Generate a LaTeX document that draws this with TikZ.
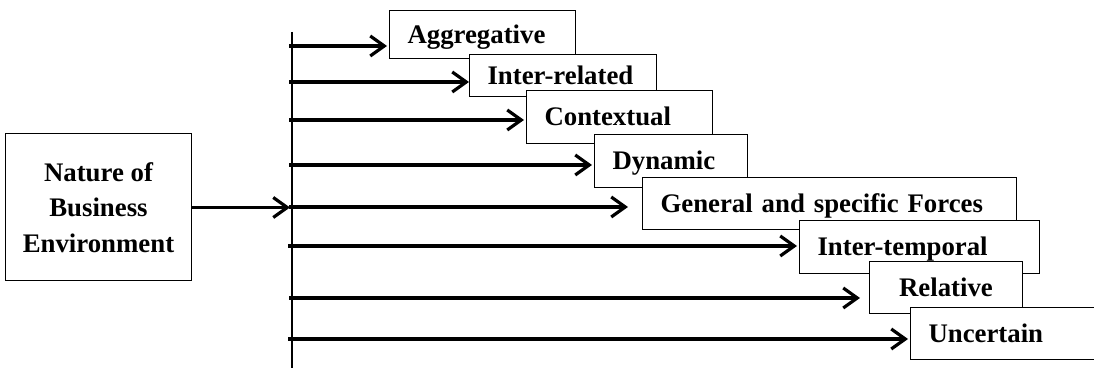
\documentclass[tikz,border=0pt]{standalone}
\usepackage{fontspec}
\setmainfont{Liberation Serif}
\usetikzlibrary{arrows.meta}

\begin{document}
\begin{tikzpicture}[x=0.5pt, y=-0.5pt,
	fbox/.style={draw, line width=0.5pt, fill=white, anchor=north west, inner ysep=0pt, inner xsep=9pt, align=left, font=\fontsize{13.4}{17.8}\selectfont\bfseries},
	feat/.style={fbox, text height=9pt, text depth=0pt},
	arr/.style={line width=1.7pt, -{Straight Barb[length=7pt, width=10pt, line width=1.6pt]}}]
	\useasboundingbox (0,0) rectangle (1094,368);
	\clip (0,0) rectangle (1094,368);
	% source box and the vertical bar
	\node[fbox, anchor=center, align=center, inner xsep=0pt, minimum width=93pt, minimum height=73.5pt] (nat) at (98.5,207.5) {Nature of\\Business\\Environment};
	\coordinate (vtop) at (292,32);
	\coordinate (vbot) at (292,370);
	\draw[line width=1pt] (vtop) -- (vbot);
	\draw[arr, shorten >=1pt] (nat) -- (nat -| vtop);
	% features, each one on top of the one before
	\node[feat, text width=75pt, minimum height=24pt] (agg) at (389,10) {Aggregative};
	\node[feat, text width=75.5pt, minimum height=21pt] (intrel) at (469,54) {Inter-related};
	\node[feat, text width=75pt, minimum height=26.5pt] (ctx) at (526,90) {Contextual};
	\node[feat, text width=58.5pt, minimum height=26.5pt] (dyn) at (594,134) {Dynamic};
	\node[feat, text width=169pt, minimum height=26pt] (gen) at (642,177) {General and specific Forces};
	\node[feat, text width=102pt, minimum height=26.5pt] (inttemp) at (799,220) {Inter-temporal};
	\node[feat, align=center, text width=58.5pt, minimum height=26pt] (rel) at (869,261) {Relative};
	\node[feat, text width=85pt, minimum height=26pt] (unc) at (910,307) {Uncertain};
	% arrows leaving the bar
	\coordinate (s1) at (289,46);
	\coordinate (s2) at (289,82);
	\coordinate (s3) at (289,120);
	\coordinate (s4) at (289,165);
	\coordinate (s5) at (289,207);
	\coordinate (s6) at (288,246);
	\coordinate (s7) at (289,298);
	\coordinate (s8) at (288,339);
	\path[arr]
	(s1) edge [shorten >=1pt] (agg.west |- s1)
	(s2) edge (intrel.west |- s2)
	(s3) edge [shorten >=1pt] (ctx.west |- s3)
	(s4) edge [shorten >=1pt] (dyn.west |- s4)
	(s5) edge [shorten >=7pt] (gen.west |- s5)
	(s6) edge [shorten >=1pt] (inttemp.west |- s6)
	(s7) edge [shorten >=4.5pt] (rel.west |- s7)
	(s8) edge [shorten >=1pt] (unc.west |- s8);
\end{tikzpicture}
\end{document}
